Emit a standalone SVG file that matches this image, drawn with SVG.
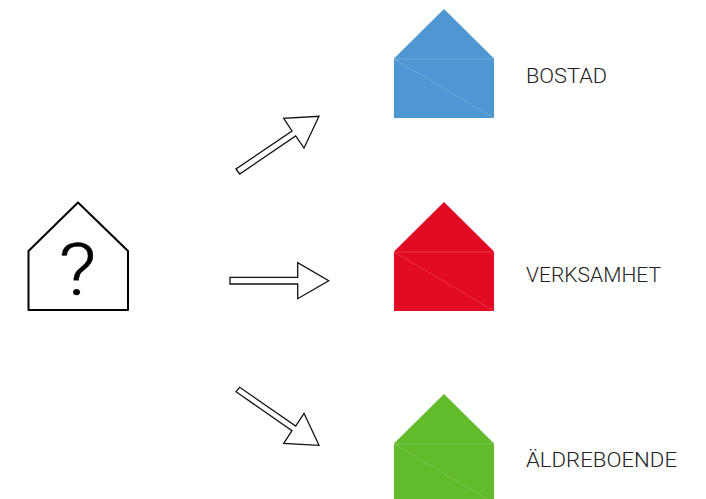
<svg xmlns="http://www.w3.org/2000/svg" width="706" height="499" viewBox="0 0 706 499">
<style>
.arrow{fill:#fff;stroke:#111;stroke-width:1.3;stroke-linejoin:miter}
.seam{fill:none;stroke:#fff;stroke-opacity:.22;stroke-width:.8}
.label{font-family:"Roboto","Liberation Sans",sans-serif;font-weight:300;font-size:21px;fill:#222}
</style>
<rect width="706" height="499" fill="#fff"/>
<g id="unknown">
<path d="M78 202.500L28.500 251V310H128V251Z" fill="#fff" stroke="#000" stroke-width="2" stroke-linejoin="round"/>
<text x="77.500" y="295" text-anchor="middle" font-family="Roboto,'Liberation Sans',sans-serif" font-weight="300" font-size="72" fill="#000" stroke="#000" stroke-width=".4" textLength="38" lengthAdjust="spacingAndGlyphs">?</text>
</g>
<g id="connectors">
<path class="arrow" d="M236 169L239.700 174L295.700 136L304 148L319 116.300L283.700 118.300L292 131Z"/>
<path class="arrow" d="M230 277.300H297.700V262.700L328.700 280.700L297.700 298.700V284H230Z"/>
<path class="arrow" d="M236 391.700L239.700 387.300L295.700 426L304 413.300L319 445.300L283.700 443.300L292 430.700Z"/>
</g>
<g id="bostad">
<path d="M444 9L394 58.500V118H494V58.500Z" fill="#4f97d3"/>
<path class="seam" d="M394 59H494M394 59L494 118"/>
<text class="label" x="526" y="83" textLength="81" lengthAdjust="spacingAndGlyphs">BOSTAD</text>
</g>
<g id="verksamhet">
<path d="M444 202L394 251.500V311H494V251.500Z" fill="#e30b23"/>
<path class="seam" d="M394 252H494M394 252L494 311"/>
<text class="label" x="526" y="282" textLength="135" lengthAdjust="spacingAndGlyphs">VERKSAMHET</text>
</g>
<g id="aldreboende">
<path d="M444 394L394 443.500V503H494V443.500Z" fill="#62bb2b"/>
<path class="seam" d="M394 444H494M394 444L494 503"/>
<text class="label" x="526" y="466.500" textLength="151" lengthAdjust="spacingAndGlyphs">ÄLDREBOENDE</text>
</g>
</svg>
